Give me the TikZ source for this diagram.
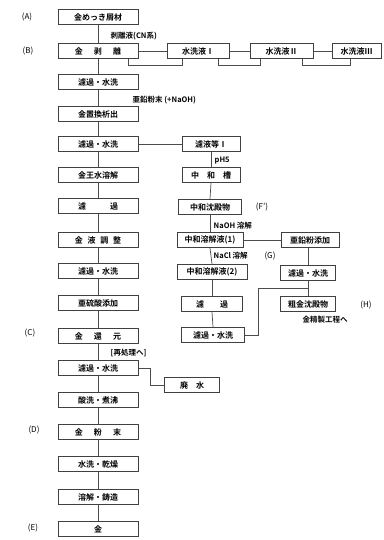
\documentclass[tikz,border=0pt]{standalone}
\usepackage{fontspec}
\setmainfont{Noto Sans CJK JP}[BoldFont={Noto Sans CJK JP Bold}]
\begin{document}
\begin{tikzpicture}[x=1pt,y=-1pt,
  box/.style={draw=black!75, line width=1pt, minimum height=15pt, inner sep=1pt, font=\fontsize{8}{9}\selectfont\bfseries},
  mbox/.style={box, minimum width=80pt},
  lab/.style={inner sep=0.5pt, font=\fontsize{7.5}{8}\selectfont\bfseries},
  side/.style={inner sep=0.5pt, font=\fontsize{8}{9}\selectfont},
  ln/.style={draw=black!70, line width=0.7pt}]
\useasboundingbox (0,0) rectangle (383,540);
% main column
\node[mbox] (m1) at (98,17) {金めっき屑材};
\node[mbox] (m2) at (98,51) {金\hspace{1.4em}剥\hspace{1.4em}離};
\node[mbox] (m3) at (98,82) {濾過・水洗};
\node[mbox] (m4) at (98,114) {金置換析出};
\node[mbox] (m5) at (98,144) {濾過・水洗};
\node[mbox] (m6) at (98,175) {金王水溶解};
\node[mbox] (m7) at (98,206) {濾\hspace{3em}過};
\node[mbox] (m8) at (98,240) {金\hspace{0.6em}液\hspace{0.6em}調\hspace{0.6em}整};
\node[mbox] (m9) at (98,271) {濾過・水洗};
\node[mbox] (m10) at (98,303) {亜硫酸添加};
\node[mbox] (m11) at (98,336) {金\hspace{1.4em}還\hspace{1.4em}元};
\node[mbox] (m12) at (98,368) {濾過・水洗};
\node[mbox] (m13) at (98,400) {酸洗・煮沸};
\node[mbox] (m14) at (98,432) {金\hspace{1.4em}粉\hspace{1.4em}末};
\node[mbox] (m15) at (98,464) {水洗・乾燥};
\node[mbox] (m16) at (98,497) {溶解・鋳造};
\node[mbox] (m17) at (98,529) {金};
\foreach \a/\b in {m1/m2,m2/m3,m3/m4,m4/m5,m5/m6,m6/m7,m7/m8,m8/m9,m9/m10,m10/m11,m11/m12,m12/m13,m13/m14,m14/m15,m15/m16,m16/m17}
  \draw[ln] (\a.south) -- (\b.north);
% stage labels
\node[side] (lA) at (27,17) {(A)};
\node[side] (lB) at (28,51) {(B)};
\node[side] (lC) at (30,333) {(C)};
\node[side] (lD) at (34,430) {(D)};
\node[side] (lE) at (33,528) {(E)};
% edge labels
\node[lab, anchor=west] (t1) at (110,36) {剥離液(CN系)};
\node[lab, anchor=west] (t2) at (132,100) {亜鉛粉末 (+NaOH)};
\node[lab, anchor=west] (t3) at (110,353) {[再処理へ]};
% rinse row
\node[box, minimum width=62pt] (w1) at (198,51) {水洗液Ⅰ};
\node[box, minimum width=63pt] (w2) at (281.5,51) {水洗液Ⅱ};
\node[box, minimum width=49pt] (w3) at (356.5,51) {水洗液Ⅲ};
\draw[ln] (m2.east) -- (w1.west);
\draw[ln] (w1.east) -- (w2.west);
\draw[ln] (w2.east) -- (w3.west);
\coordinate (c1a) at (128,65); \coordinate (c1b) at (182,65);
\coordinate (c2a) at (218,65); \coordinate (c2b) at (260,65);
\coordinate (c3a) at (302,65); \coordinate (c3b) at (350,65);
\draw[ln] (m2.south -| c1a) -- (c1a) -- (c1b) -- (w1.south -| c1b);
\draw[ln] (w1.south -| c2a) -- (c2a) -- (c2b) -- (w2.south -| c2b);
\draw[ln] (w2.south -| c3a) -- (c3a) -- (c3b) -- (w3.south -| c3b);
% right column
\node[box, minimum width=58pt] (r1) at (211,144) {濾液等Ⅰ};
\node[box, minimum width=58pt] (r2) at (211,175) {中\hspace{1em}和\hspace{1em}槽};
\node[box, minimum width=63pt] (r3) at (210,207) {中和沈殿物};
\node[box, minimum width=66pt] (r4) at (210,240) {中和溶解液(1)};
\node[box, minimum width=70pt] (r5) at (212,272) {中和溶解液(2)};
\node[box, minimum width=61pt] (r6) at (212,304) {濾\hspace{2em}過};
\node[box, minimum width=63pt] (r7) at (213,335) {濾過・水洗};
\draw[ln] (m5.east) -- (r1.west);
\draw[ln] (r1.south) -- (r2.north);
\draw[ln] (r2.south) -- (r3.north);
\draw[ln] (r3.south) -- (r4.north);
\draw[ln] (r4.south) -- (r5.north);
\draw[ln] (r5.south) -- (r6.north);
\draw[ln] (r6.south) -- (r7.north);
\node[lab, anchor=west] (t4) at (214,161) {pH5};
\node[side] (lF) at (262,207) {(F')};
\node[lab, anchor=west] (t5) at (213,226) {NaOH 溶解};
\node[lab, anchor=west] (t6) at (213,256) {NaCl 溶解};
\node[side] (lG) at (270,256) {(G)};
% right sub-column
\node[box, minimum width=58pt] (s1) at (310,240) {亜鉛粉添加};
\node[box, minimum width=55pt] (s2) at (308,273) {濾過・水洗};
\node[box, minimum width=55pt] (s3) at (308,304) {粗金沈殿物};
\node[side] (lH) at (366,305) {(H)};
\node[lab] (t7) at (325,320) {金精製工程へ};
\draw[ln] (r4.east) -- (s1.west);
\draw[ln] (s1.south -| s2.north) -- (s2.north);
\draw[ln] (s2.south) -- (s3.north);
\coordinate (j1) at (258,335); \coordinate (j2) at (258,288);
\draw[ln] (r7.east) -- (j1) -- (j2) -- (j2 -| s2.south);
% waste water
\node[box, minimum width=55pt] (wa) at (192,385) {廃\hspace{1em}水};
\coordinate (k1) at (150,368);
\draw[ln] (m12.east) -- (k1) -- (k1 |- wa.west) -- (wa.west);
\end{tikzpicture}
\end{document}
